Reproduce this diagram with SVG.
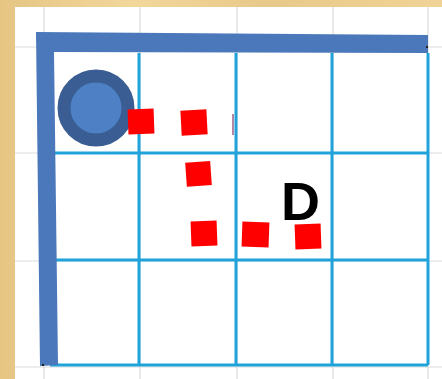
<svg xmlns="http://www.w3.org/2000/svg" width="442" height="379" viewBox="0 0 442 379">
<defs>
<linearGradient id="parch" x1="0" y1="0" x2="1" y2="0">
<stop offset="0" stop-color="#e6c583"/>
<stop offset="0.3" stop-color="#f2d79b"/>
<stop offset="0.6" stop-color="#e9c98a"/>
<stop offset="1" stop-color="#f0d396"/>
</linearGradient>
<style>
.faint{stroke:#dcdcdc;stroke-width:1.2;fill:none}
.grid{stroke:#1fa3da;stroke-width:3;fill:none}
.wall{fill:#4a78bb}
.dot{fill:#ff0000}
.lbl{font-family:"Liberation Sans",Arial,sans-serif;font-weight:bold;font-size:54px;fill:#000}
</style>
</defs>
<rect x="0" y="0" width="442" height="379" fill="url(#parch)"/>
<rect x="15" y="7" width="427" height="372" fill="#ffffff"/>
<g id="faint-grid">
<path class="faint" d="M44 7V379M140 7V379M237 7V379M333 7V379M428 7V379M15 47H442M15 153H442M15 261H442M15 367H442"/>
</g>
<g id="grid">
<path class="grid" d="M139 53V365M236 53V365M332 53V365M428 53V365M50 153H428M50 260H428M50 365H428"/>
</g>
<g id="wall">
<polygon class="wall" points="36,32 428,35 428,53 54,52 58,365 40,366"/>
<rect x="426" y="46" width="2" height="2" fill="#222"/>
<rect x="42" y="364" width="2" height="2" fill="#222"/>
</g>
<g id="ball">
<circle cx="96" cy="108" r="32" fill="#4e80c6" stroke="#3a5e93" stroke-width="13"/>
</g>
<g id="path-dots">
<rect class="dot" x="128" y="109" width="26" height="25" transform="rotate(-2 141 121)"/>
<rect class="dot" x="181" y="110" width="26" height="25" transform="rotate(-3 194 122)"/>
<rect class="dot" x="186" y="162" width="25" height="24" transform="rotate(-4 198 174)"/>
<rect class="dot" x="191" y="221" width="26" height="25" transform="rotate(-2 204 233)"/>
<rect class="dot" x="242" y="222" width="27" height="25" transform="rotate(2 255 234)"/>
<rect class="dot" x="295" y="224" width="26" height="25" transform="rotate(-2 308 236)"/>
<rect x="232" y="114" width="2" height="21" fill="#a06a90" opacity="0.8"/>
</g>
<g id="label-D">
<text class="lbl" x="281" y="220">D</text>
</g>
</svg>
